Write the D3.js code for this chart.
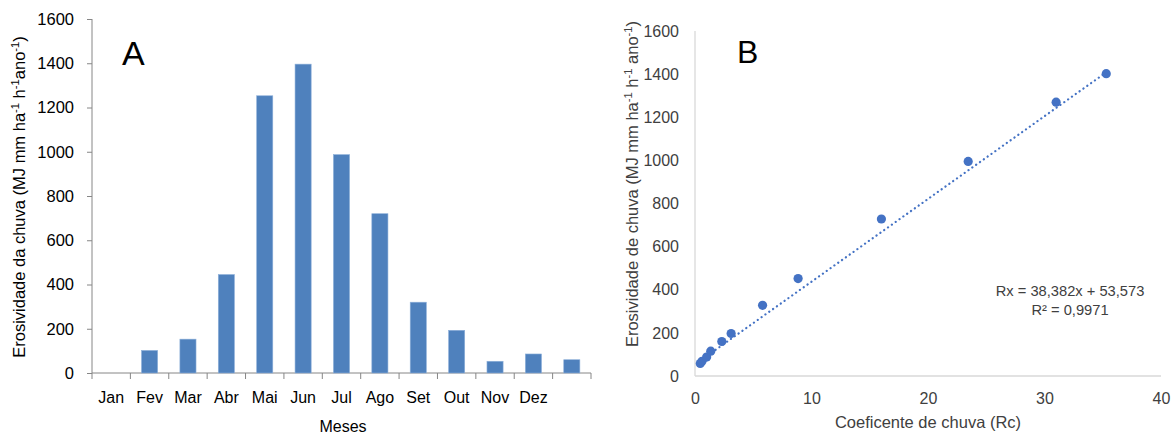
<!DOCTYPE html>
<html>
<head>
<meta charset="utf-8">
<script src="https://cdn.jsdelivr.net/npm/d3@7"></script>
<style>
  body { margin: 0; background: #fff; }
  svg { display: block; font-family: "Liberation Sans", Arial, sans-serif; }
</style>
</head>
<body>
<svg id="chart" width="1176" height="437"></svg>
<script>
// Panel A: monthly erosivity
const months = ["Jan", "Fev", "Mar", "Abr", "Mai", "Jun", "Jul", "Ago", "Set", "Out", "Nov", "Dez", ""];
const erosivity = [0, 102, 153, 445, 1253, 1396, 987, 720, 320, 193, 53, 86, 60];
const yTicksA = [0, 200, 400, 600, 800, 1000, 1200, 1400, 1600];

// Panel B: erosivity vs rain coefficient
const rc = [0.45, 0.6, 1.0, 1.35, 2.3, 3.1, 5.8, 8.85, 16.0, 23.45, 31.0, 35.3];
const rx = [58, 68, 88, 115, 160, 197, 328, 452, 728, 995, 1270, 1402];
const xTicksB = [0, 10, 20, 30, 40];
const yTicksB = [0, 200, 400, 600, 800, 1000, 1200, 1400, 1600];
const fit = { slope: 38.382, intercept: 53.573 };

const svg = d3.select("#chart");

// titles with superscripts: shift up for sup, back down for the next part
function addSup(textSel, parts) {
  let raised = false;
  parts.forEach(p => {
    const ts = textSel.append("tspan").text(p.t);
    if (p.sup) {
      ts.attr("dy", -6).attr("font-size", "0.68em");
      raised = true;
    } else if (raised) {
      ts.attr("dy", 6);
      raised = false;
    }
  });
}

// ---------- Panel A ----------
const xA = d3.scaleBand().domain(d3.range(months.length)).range([92, 591]);
const yA = d3.scaleLinear().domain([0, 1600]).range([373, 19]);

const gA = svg.append("g");

gA.append("g")
  .attr("transform", "translate(92,0)")
  .call(d3.axisLeft(yA).tickValues(yTicksA).tickFormat(d3.format("d")).tickSize(5).tickPadding(13))
  .call(g => g.select(".domain").attr("stroke", "#868686").attr("d", `M0,${yA(1600)}V${yA(0)}`))
  .call(g => g.selectAll(".tick line").attr("stroke", "#868686"))
  .call(g => g.selectAll(".tick text").attr("font-size", 16.5).attr("fill", "#000").attr("font-family", "Liberation Sans"));

// x axis line with ticks at band edges
const edges = d3.range(months.length + 1).map(i => 92 + i * xA.step());
gA.append("line").attr("x1", 92).attr("x2", 591).attr("y1", 373).attr("y2", 373).attr("stroke", "#868686");
gA.selectAll(".xedge").data(edges).join("line")
  .attr("x1", d => d).attr("x2", d => d).attr("y1", 373).attr("y2", 379)
  .attr("stroke", "#868686");

gA.selectAll(".bar").data(erosivity).join("rect")
  .attr("x", (d, i) => xA(i) + xA.bandwidth() * 0.29)
  .attr("width", xA.bandwidth() * 0.42)
  .attr("y", d => yA(d))
  .attr("height", d => yA(0) - yA(d))
  .attr("fill", "#4F81BD")
  .attr("stroke", "#8eb0da")
  .attr("stroke-width", 0.6);

gA.selectAll(".mlabel").data(months.filter(m => m !== "")).join("text")
  .attr("x", (d, i) => xA(i) + xA.bandwidth() / 2)
  .attr("y", 403)
  .attr("text-anchor", "middle")
  .attr("font-size", 16)
  .attr("fill", "#000")
  .text(d => d);

gA.append("text").attr("x", 343).attr("y", 432).attr("text-anchor", "middle")
  .attr("font-size", 16).attr("fill", "#000").text("Meses");

const tA = gA.append("text")
  .attr("transform", "translate(25,197) rotate(-90)")
  .attr("text-anchor", "middle")
  .attr("font-size", 16.5)
  .attr("fill", "#000");
addSup(tA, [{ t: "Erosividade da chuva  (MJ mm ha" }, { t: "-1", sup: true }, { t: " h" }, { t: "-1", sup: true }, { t: "ano" }, { t: "-1", sup: true }, { t: ")" }]);

gA.append("text").attr("x", 122).attr("y", 65).attr("font-size", 34).attr("fill", "#000").text("A");

// ---------- Panel B ----------
const xB = d3.scaleLinear().domain([0, 40]).range([695, 1161]);
const yB = d3.scaleLinear().domain([0, 1600]).range([376, 31]);

const gB = svg.append("g");

gB.append("line").attr("x1", 695).attr("x2", 695).attr("y1", yB(1600)).attr("y2", yB(0)).attr("stroke", "#d9d9d9").attr("stroke-width", 1.3);
gB.append("line").attr("x1", 695).attr("x2", 1161).attr("y1", yB(0)).attr("y2", yB(0)).attr("stroke", "#d9d9d9").attr("stroke-width", 1.3);

gB.append("g")
  .attr("transform", "translate(695,0)")
  .call(d3.axisLeft(yB).tickValues(yTicksB).tickFormat(d3.format("d")).tickSize(0).tickPadding(16))
  .call(g => g.select(".domain").remove())
  .call(g => g.selectAll(".tick text").attr("font-size", 16).attr("fill", "#404040"));

gB.append("g")
  .attr("transform", `translate(0,${yB(0)})`)
  .call(d3.axisBottom(xB).tickValues(xTicksB).tickSize(0).tickPadding(17))
  .call(g => g.select(".domain").remove())
  .call(g => g.selectAll(".tick text").attr("font-size", 16).attr("fill", "#404040"));

// trend line
const x0 = d3.min(rc), x1 = d3.max(rc);
gB.append("line")
  .attr("x1", xB(x0)).attr("y1", yB(fit.slope * x0 + fit.intercept))
  .attr("x2", xB(x1)).attr("y2", yB(fit.slope * x1 + fit.intercept))
  .attr("stroke", "#4472C4")
  .attr("stroke-width", 2.2)
  .attr("stroke-linecap", "round")
  .attr("stroke-dasharray", "0.1 4.6");

gB.selectAll(".pt").data(rc).join("circle")
  .attr("cx", d => xB(d))
  .attr("cy", (d, i) => yB(rx[i]))
  .attr("r", 4.6)
  .attr("fill", "#4472C4");

gB.append("text").attr("x", 928).attr("y", 428).attr("text-anchor", "middle")
  .attr("font-size", 16.5).attr("fill", "#404040").text("Coeficente de chuva (Rc)");

const tB = gB.append("text")
  .attr("transform", "translate(638,184) rotate(-90)")
  .attr("text-anchor", "middle")
  .attr("font-size", 16.5)
  .attr("fill", "#404040");
addSup(tB, [{ t: "Erosividade de chuva (MJ mm ha" }, { t: "-1", sup: true }, { t: " h" }, { t: "-1", sup: true }, { t: " ano" }, { t: "-1", sup: true }, { t: ")" }]);

gB.append("text").attr("x", 737).attr("y", 63).attr("font-size", 32).attr("fill", "#000").text("B");

gB.append("text").attr("x", 1070).attr("y", 296).attr("text-anchor", "middle")
  .attr("font-size", 14.7).attr("fill", "#404040").text("Rx = 38,382x + 53,573");
gB.append("text").attr("x", 1070).attr("y", 315).attr("text-anchor", "middle")
  .attr("font-size", 14.7).attr("fill", "#404040").text("R² = 0,9971");
</script>
</body>
</html>
